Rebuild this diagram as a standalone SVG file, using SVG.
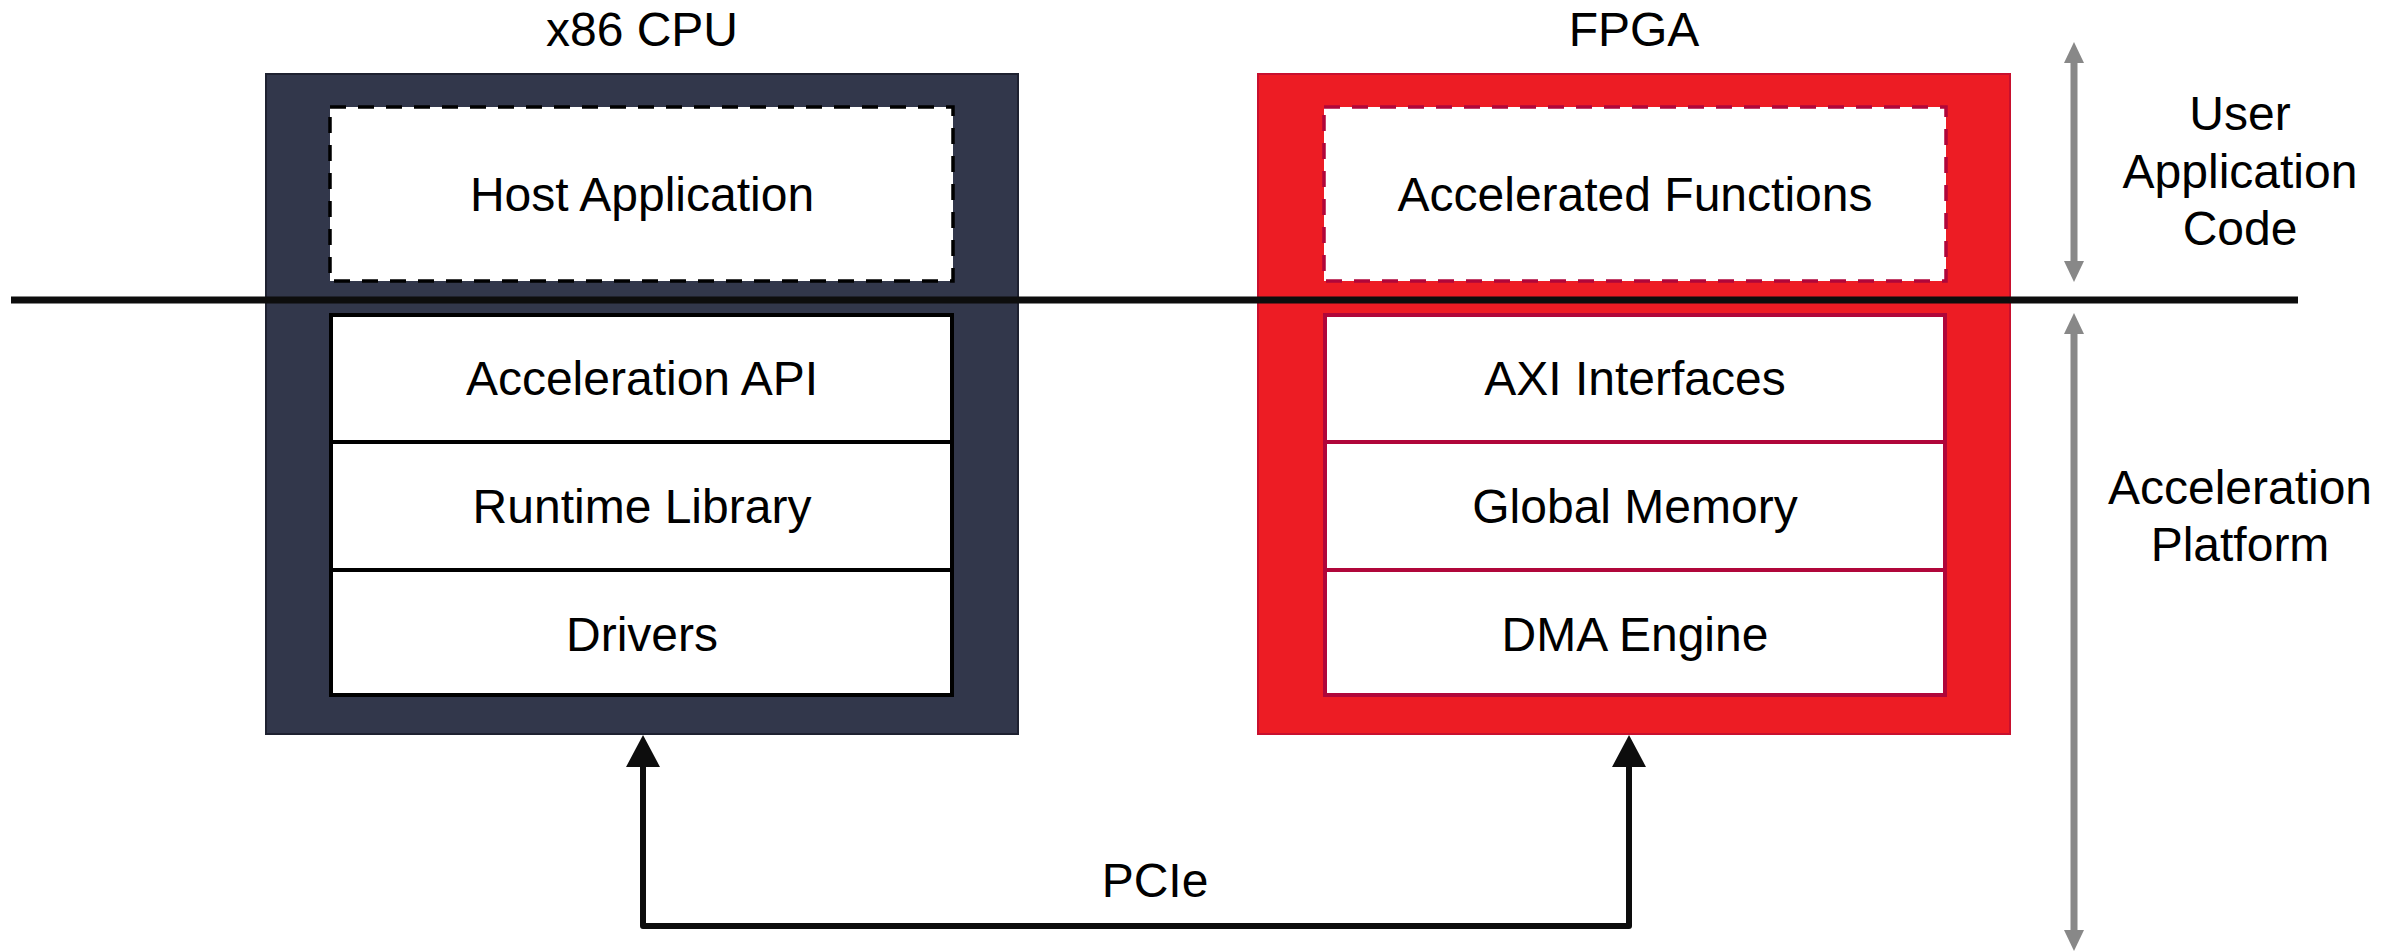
<svg xmlns="http://www.w3.org/2000/svg" width="2405" height="951" viewBox="0 0 2405 951">
<defs>
<style>
text{font-family:"Liberation Sans",Arial,sans-serif;font-size:48px;fill:#000;text-anchor:middle}
.cpu{fill:#32374b;stroke:#1e2130;stroke-width:2}
.fpga{fill:#ed1c24;stroke:#c8102e;stroke-width:2}
.cin{fill:#fff;stroke:#000;stroke-width:4}
.fin{fill:#fff;stroke:#b0063a;stroke-width:4}
.dash{stroke-dasharray:16 12;stroke-width:3.5}
</style>
<marker id="ah" markerUnits="userSpaceOnUse" viewBox="0 0 32 34" refX="0" refY="17" markerWidth="32" markerHeight="34" orient="auto-start-reverse"><path d="M0,0 L32,17 L0,34 z" fill="#0d0d0d"/></marker>
<marker id="gh" markerUnits="userSpaceOnUse" viewBox="0 0 21 20" refX="0" refY="10" markerWidth="21" markerHeight="20" orient="auto-start-reverse"><path d="M0,0 L21,10 L0,20 z" fill="#888"/></marker>
</defs>
<rect width="2405" height="951" fill="#fff"/>

<g id="cpu">
<text x="642" y="46">x86 CPU</text>
<rect class="cpu" x="266" y="74" width="752" height="660"/>
<g id="host-app">
<rect class="cin dash" x="330" y="107" width="623" height="174"/>
<text x="642" y="211">Host Application</text>
</g>
<g id="accel-api">
<rect class="cin" x="331" y="315" width="621" height="127"/>
<text x="642" y="395">Acceleration API</text>
</g>
<g id="runtime">
<rect class="cin" x="331" y="442" width="621" height="128"/>
<text x="642" y="523">Runtime Library</text>
</g>
<g id="drivers">
<rect class="cin" x="331" y="570" width="621" height="125"/>
<text x="642" y="651">Drivers</text>
</g>
</g>

<g id="fpga">
<text x="1634" y="46">FPGA</text>
<rect class="fpga" x="1258" y="74" width="752" height="660"/>
<g id="accel-func">
<rect class="fin dash" x="1324" y="107" width="622" height="174"/>
<text x="1635" y="211">Accelerated Functions</text>
</g>
<g id="axi">
<rect class="fin" x="1325" y="315" width="620" height="127"/>
<text x="1635" y="395">AXI Interfaces</text>
</g>
<g id="gmem">
<rect class="fin" x="1325" y="442" width="620" height="128"/>
<text x="1635" y="523">Global Memory</text>
</g>
<g id="dma">
<rect class="fin" x="1325" y="570" width="620" height="125"/>
<text x="1635" y="651">DMA Engine</text>
</g>
</g>

<g id="divider">
<line x1="11" y1="300" x2="2298" y2="300" stroke="#0d0d0d" stroke-width="7"/>
</g>

<g id="connectors">
<path d="M643,767 V926 H1629 V767" fill="none" stroke="#0d0d0d" stroke-width="6" stroke-linejoin="round" marker-start="url(#ah)" marker-end="url(#ah)"/>
<text x="1155" y="897">PCIe</text>
<line x1="2074" y1="63" x2="2074" y2="261" stroke="#888" stroke-width="7" marker-start="url(#gh)" marker-end="url(#gh)"/>
<line x1="2074" y1="334" x2="2074" y2="930" stroke="#888" stroke-width="7" marker-start="url(#gh)" marker-end="url(#gh)"/>
</g>

<g id="labels">
<text x="2240" y="130">User</text>
<text x="2240" y="188">Application</text>
<text x="2240" y="245">Code</text>
<text x="2240" y="504">Acceleration</text>
<text x="2240" y="561">Platform</text>
</g>
</svg>
